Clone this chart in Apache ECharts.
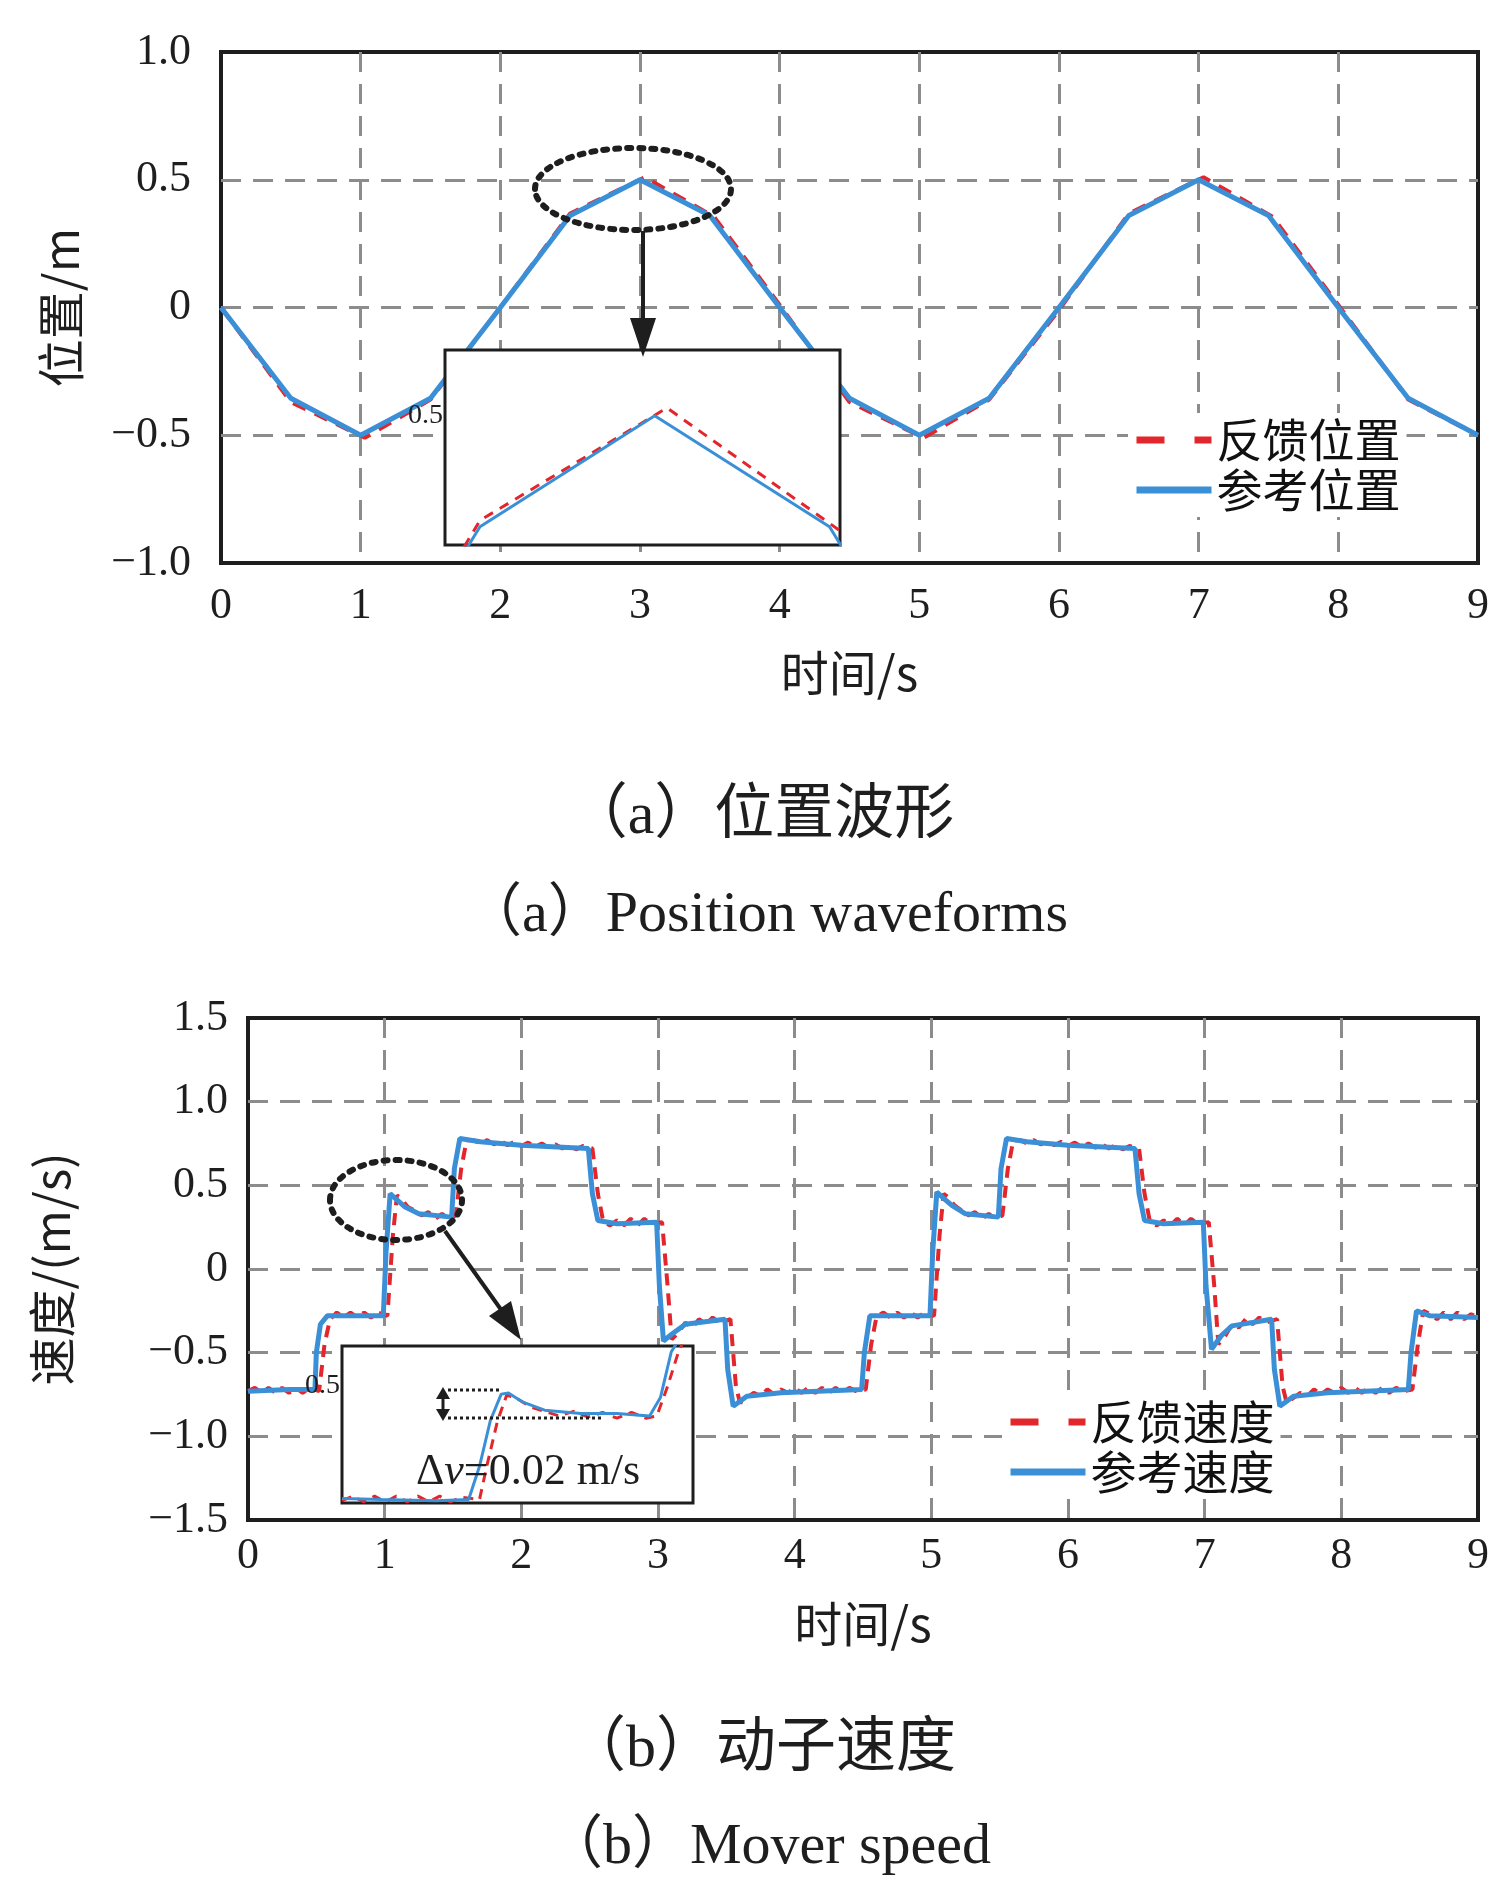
<!DOCTYPE html>
<html><head><meta charset="utf-8">
<script src="https://cdn.jsdelivr.net/npm/echarts@6/dist/echarts.min.js"></script>
<style>html,body{margin:0;padding:0;background:#fff}#c{width:1509px;height:1904px}</style>
</head><body><div id="c"></div>
<script>
// ---------- data ----------
const timeTicks = ['0','1','2','3','4','5','6','7','8','9'];
const posTickValues = [-1, -0.5, 0, 0.5, 1];
const posTickLabels = ['−1.0','−0.5','0','0.5','1.0'];
const spdTickValues = [-1.5, -1, -0.5, 0, 0.5, 1, 1.5];
const spdTickLabels = ['−1.5','−1.0','−0.5','0','0.5','1.0','1.5'];

// position (reference)
const posRefT = [0, 0.5, 1, 1.5, 2, 2.5, 3, 3.5, 4, 4.5, 5, 5.5, 6, 6.5, 7, 7.5, 8, 8.5, 9];
const posRef  = [0, -0.355, -0.5, -0.355, 0, 0.36, 0.5, 0.36, 0, -0.355, -0.5, -0.355, 0, 0.36, 0.5, 0.36, 0, -0.355, -0.5];
// position (feedback)
const posFbT = [0, 0.5, 1.03, 1.5, 2.0, 2.5, 3.035, 3.53, 4.0, 4.5, 5.03, 5.5, 6.0, 6.5, 7.035, 7.53, 8.0, 8.5, 9];
const posFb  = [0, -0.37, -0.51, -0.36, 0.0, 0.368, 0.51, 0.355, 0.01, -0.37, -0.51, -0.36, -0.01, 0.368, 0.51, 0.355, 0.01, -0.36, -0.5];

// speed (reference)
const spdRefT = [0,0.3,0.49,0.5,0.53,0.58,0.8,0.99,1.01,1.04,1.08,1.15,1.25,1.49,1.51,1.55,1.7,2.0,2.49,2.52,2.56,2.7,2.99,3.01,3.04,3.1,3.2,3.49,3.51,3.55,3.65,3.9,4.49,4.51,4.55,4.99,5.01,5.04,5.08,5.15,5.25,5.49,5.51,5.55,5.7,6.0,6.49,6.52,6.56,6.7,6.99,7.01,7.05,7.12,7.2,7.49,7.51,7.55,7.65,7.9,8.49,8.51,8.55,8.65,9];
const spdRef  = [-0.73,-0.72,-0.72,-0.5,-0.33,-0.28,-0.28,-0.28,0.1,0.45,0.42,0.37,0.33,0.31,0.6,0.78,0.76,0.74,0.72,0.45,0.29,0.27,0.28,-0.1,-0.43,-0.39,-0.33,-0.3,-0.6,-0.82,-0.76,-0.74,-0.72,-0.5,-0.28,-0.28,0.1,0.46,0.43,0.38,0.33,0.31,0.6,0.78,0.76,0.74,0.72,0.45,0.29,0.27,0.28,-0.1,-0.48,-0.4,-0.34,-0.3,-0.6,-0.82,-0.76,-0.74,-0.72,-0.5,-0.25,-0.28,-0.29];
// speed (feedback)
const spdFbT = [0,0.05,0.1,0.15,0.2,0.25,0.3,0.35,0.4,0.45,0.52,0.56,0.6,0.65,0.7,0.75,0.8,0.85,0.9,0.95,1.02,1.06,1.09,1.12,1.17,1.22,1.27,1.32,1.37,1.42,1.47,1.52,1.56,1.6,1.65,1.7,1.75,1.8,1.85,1.9,1.95,2.0,2.05,2.1,2.15,2.2,2.25,2.3,2.35,2.4,2.45,2.52,2.56,2.6,2.65,2.7,2.75,2.8,2.85,2.9,2.95,3.03,3.07,3.1,3.15,3.2,3.25,3.3,3.35,3.4,3.45,3.53,3.57,3.6,3.65,3.7,3.75,3.8,3.85,3.9,3.95,4.0,4.05,4.1,4.15,4.2,4.25,4.3,4.35,4.4,4.45,4.52,4.56,4.6,4.65,4.7,4.75,4.8,4.85,4.9,4.95,5.02,5.06,5.09,5.12,5.17,5.22,5.27,5.32,5.37,5.42,5.47,5.52,5.56,5.6,5.65,5.7,5.75,5.8,5.85,5.9,5.95,6.0,6.05,6.1,6.15,6.2,6.25,6.3,6.35,6.4,6.45,6.52,6.56,6.6,6.65,6.7,6.75,6.8,6.85,6.9,6.95,7.03,7.07,7.1,7.15,7.2,7.25,7.3,7.35,7.4,7.45,7.53,7.57,7.6,7.65,7.7,7.75,7.8,7.85,7.9,7.95,8.0,8.05,8.1,8.15,8.2,8.25,8.3,8.35,8.4,8.45,8.52,8.56,8.6,8.65,8.7,8.75,8.8,8.85,8.9,8.95,9.0];
const spdFb  = [-0.73,-0.71,-0.74,-0.71,-0.74,-0.71,-0.74,-0.71,-0.74,-0.71,-0.73,-0.45,-0.30,-0.26,-0.29,-0.26,-0.29,-0.26,-0.29,-0.26,-0.28,0.2,0.44,0.42,0.37,0.35,0.32,0.34,0.30,0.33,0.30,0.32,0.6,0.77,0.77,0.75,0.77,0.745,0.765,0.74,0.76,0.735,0.755,0.73,0.75,0.725,0.745,0.72,0.74,0.715,0.735,0.72,0.45,0.28,0.26,0.29,0.26,0.30,0.26,0.30,0.27,0.28,-0.1,-0.42,-0.38,-0.32,-0.35,-0.30,-0.33,-0.29,-0.32,-0.30,-0.7,-0.80,-0.77,-0.74,-0.76,-0.72,-0.75,-0.72,-0.74,-0.71,-0.74,-0.71,-0.74,-0.71,-0.74,-0.71,-0.74,-0.71,-0.73,-0.72,-0.45,-0.28,-0.26,-0.29,-0.26,-0.29,-0.26,-0.29,-0.26,-0.28,0.2,0.45,0.43,0.38,0.35,0.32,0.34,0.30,0.33,0.30,0.32,0.6,0.77,0.77,0.75,0.77,0.745,0.765,0.74,0.76,0.735,0.755,0.73,0.75,0.725,0.745,0.72,0.74,0.715,0.735,0.72,0.45,0.28,0.26,0.29,0.26,0.30,0.26,0.30,0.27,0.28,-0.1,-0.45,-0.40,-0.33,-0.35,-0.30,-0.33,-0.29,-0.32,-0.30,-0.7,-0.80,-0.77,-0.74,-0.76,-0.72,-0.75,-0.72,-0.74,-0.71,-0.74,-0.71,-0.74,-0.71,-0.74,-0.71,-0.74,-0.71,-0.73,-0.72,-0.45,-0.25,-0.27,-0.30,-0.26,-0.30,-0.26,-0.30,-0.27,-0.29];

// zoomed detail of speed (inset b)
const zoomRefT = [0.64,0.75,0.9,0.99,1.02,1.05,1.08,1.10,1.14,1.2,1.3,1.4,1.49,1.52,1.55,1.58,1.61];
const zoomRef  = [0.402,0.401,0.400,0.401,0.43,0.47,0.493,0.494,0.486,0.479,0.476,0.476,0.474,0.49,0.53,0.545,0.55];
const zoomFbT = [0.64,0.67,0.70,0.73,0.76,0.79,0.82,0.85,0.88,0.91,0.94,0.97,1.02,1.04,1.07,1.095,1.12,1.16,1.2,1.24,1.28,1.32,1.36,1.40,1.44,1.48,1.51,1.54,1.57,1.6];
const zoomFb  = [0.400,0.404,0.399,0.404,0.399,0.404,0.399,0.404,0.399,0.404,0.399,0.403,0.401,0.43,0.47,0.492,0.49,0.482,0.478,0.474,0.478,0.473,0.477,0.472,0.477,0.472,0.474,0.50,0.53,0.55];

const insetRefLevel = 0.5;

// ---------- helpers ----------
const pairs = (t, v) => t.map((x, i) => [x, v[i]]);
const SERIF = "'Liberation Serif','Noto Sans CJK SC',serif";
const CJK = "'Noto Sans CJK SC','Liberation Serif',sans-serif";
const BLUE = '#3b8fd6', RED = '#e3262b', INK = '#1e1e1e';
const lab = (vals, labs) => v => { const i = vals.findIndex(x => Math.abs(x - v) < 1e-9); return i < 0 ? '' : labs[i]; };
const gridSplit = { show: true, showMinLine: false, showMaxLine: false, lineStyle: { color: '#8c8c8c', width: 3, type: [20, 12] } };

function mainX(gi, margin, gap) {
  return { type: 'value', gridIndex: gi, min: 0, max: 9, interval: 1,
    axisLine: { show: false }, axisTick: { show: false },
    axisLabel: { fontSize: 44, fontFamily: SERIF, color: INK, margin: margin, formatter: v => timeTicks[Math.round(v)] },
    splitLine: gridSplit,
    name: '时间/s', nameLocation: 'middle', nameGap: gap,
    nameTextStyle: { fontSize: 48, fontFamily: CJK, color: INK } };
}
function mainY(gi, min, max, vals, labs, margin, name, gap) {
  return { type: 'value', gridIndex: gi, min: min, max: max, interval: 0.5,
    axisLine: { show: false }, axisTick: { show: false },
    axisLabel: { fontSize: 44, fontFamily: SERIF, color: INK, margin: margin, formatter: lab(vals, labs) },
    splitLine: gridSplit,
    name: name, nameLocation: 'middle', nameGap: gap, nameRotate: 90,
    nameTextStyle: { fontSize: 48, fontFamily: CJK, color: INK } };
}
function line(name, data, xi, yi, color, width, dash, z, extra) {
  return Object.assign({ type: 'line', name: name, data: data, xAxisIndex: xi, yAxisIndex: yi,
    showSymbol: false, symbol: 'none', clip: true, z: z, animation: false,
    lineStyle: { color: color, width: width, type: dash || 'solid' }, itemStyle: { color: color } }, extra || {});
}
const mark05 = { silent: true, symbol: ['none', 'none'], animation: false,
  lineStyle: { color: '#999', width: 2, type: [9, 7] },
  label: { show: true, position: 'start', formatter: '0.5', fontSize: 28, fontFamily: SERIF, color: INK, distance: 2 },
  data: [{ yAxis: insetRefLevel }] };

const legendItem = (name, color, dashed) => ({ name: name,
  itemStyle: { color: color, opacity: 0 },
  lineStyle: { color: color, width: 7, type: dashed ? [28, 30] : 'solid' } });

const chart = echarts.init(document.getElementById('c'), null, { renderer: 'canvas' });
chart.setOption({
  animation: false,
  backgroundColor: '#fff',
  grid: [
    { left: 221, top: 52, width: 1257, height: 511, show: true, borderColor: INK, borderWidth: 4, backgroundColor: 'transparent' },
    { left: 445, top: 350, width: 395, height: 195, show: true, borderColor: INK, borderWidth: 3, backgroundColor: '#fff', z: 10 },
    { left: 248, top: 1018, width: 1230, height: 502, show: true, borderColor: INK, borderWidth: 4, backgroundColor: 'transparent' },
    { left: 342, top: 1346, width: 351, height: 157, show: true, borderColor: INK, borderWidth: 3, backgroundColor: '#fff', z: 10 }
  ],
  xAxis: [
    mainX(0, 21, 86),
    { type: 'value', gridIndex: 1, min: 2.4, max: 3.53, show: false },
    mainX(2, 14, 80),
    { type: 'value', gridIndex: 3, min: 0.64, max: 1.61, show: false }
  ],
  yAxis: [
    mainY(0, -1, 1, posTickValues, posTickLabels, 30, '位置/m', 136),
    { type: 'value', gridIndex: 1, min: 0.337, max: 0.583, show: false },
    mainY(2, -1.5, 1.5, spdTickValues, spdTickLabels, 20, '速度/(m/s)', 172),
    { type: 'value', gridIndex: 3, min: 0.398, max: 0.535, show: false }
  ],
  legend: [
    { orient: 'vertical', left: 1128, top: 413, padding: [4, 6, 4, 5], itemGap: 4, itemWidth: 75, itemHeight: 8,
      backgroundColor: '#fff', z: 1, selectedMode: false,
      textStyle: { fontSize: 46, fontFamily: CJK, color: '#111' },
      data: [legendItem('反馈位置', RED, true), legendItem('参考位置', BLUE, false)] },
    { orient: 'vertical', left: 1002, top: 1395, padding: [4, 6, 4, 5], itemGap: 4, itemWidth: 75, itemHeight: 8,
      backgroundColor: '#fff', z: 1, selectedMode: false,
      textStyle: { fontSize: 46, fontFamily: CJK, color: '#111' },
      data: [legendItem('反馈速度', RED, true), legendItem('参考速度', BLUE, false)] }
  ],
  series: [
    line('反馈位置', pairs(posFbT, posFb), 0, 0, RED, 4, [14, 10], 2),
    line('参考位置', pairs(posRefT, posRef), 0, 0, BLUE, 5, 'solid', 2),
    line('反馈位置局部', pairs(posFbT, posFb), 1, 1, RED, 3, [10, 8], 11),
    line('参考位置局部', pairs(posRefT, posRef), 1, 1, BLUE, 3, 'solid', 11, { markLine: mark05 }),
    line('反馈速度', pairs(spdFbT, spdFb), 2, 2, RED, 4, [12, 8], 2),
    line('参考速度', pairs(spdRefT, spdRef), 2, 2, BLUE, 5, 'solid', 2),
    line('反馈速度局部', pairs(zoomFbT, zoomFb), 3, 3, RED, 3, [10, 7], 11),
    line('参考速度局部', pairs(zoomRefT, zoomRef), 3, 3, BLUE, 3, 'solid', 11, { markLine: mark05 })
  ],
  graphic: [
    // annotation (a)
    { type: 'ellipse', z: 20, shape: { cx: 633, cy: 189, rx: 98, ry: 41 },
      style: { fill: 'none', stroke: INK, lineWidth: 6, lineDash: [4, 8], lineCap: 'round' } },
    { type: 'line', z: 20, shape: { x1: 643, y1: 231, x2: 643, y2: 322 }, style: { stroke: INK, lineWidth: 4 } },
    { type: 'polygon', z: 20, shape: { points: [[630, 318], [656, 318], [643, 357]] }, style: { fill: INK } },
    // annotation (b)
    { type: 'ellipse', z: 20, shape: { cx: 396, cy: 1200, rx: 66, ry: 40 },
      style: { fill: 'none', stroke: INK, lineWidth: 6, lineDash: [4, 8], lineCap: 'round' } },
    { type: 'line', z: 20, shape: { x1: 445, y1: 1231, x2: 502, y2: 1311 }, style: { stroke: INK, lineWidth: 4 } },
    { type: 'polygon', z: 20, shape: { points: [[489, 1316], [511, 1301], [521, 1340]] }, style: { fill: INK } },
    { type: 'line', z: 20, shape: { x1: 448, y1: 1390, x2: 502, y2: 1390 }, style: { stroke: INK, lineWidth: 3, lineDash: [3, 3] } },
    { type: 'line', z: 20, shape: { x1: 448, y1: 1418, x2: 604, y2: 1418 }, style: { stroke: INK, lineWidth: 3, lineDash: [3, 3] } },
    { type: 'line', z: 20, shape: { x1: 443, y1: 1396, x2: 443, y2: 1412 }, style: { stroke: INK, lineWidth: 3 } },
    { type: 'polygon', z: 20, shape: { points: [[436, 1399], [450, 1399], [443, 1387]] }, style: { fill: INK } },
    { type: 'polygon', z: 20, shape: { points: [[436, 1409], [450, 1409], [443, 1421]] }, style: { fill: INK } },
    { type: 'text', z: 20, x: 416, y: 1472,
      style: { text: '{a|Δ}{b|v}{a|=0.02 m/s}', verticalAlign: 'middle', align: 'left',
        rich: { a: { fontSize: 44, fontFamily: SERIF, fill: INK, color: INK },
                b: { fontSize: 44, fontFamily: SERIF, fontStyle: 'italic', fill: INK, color: INK } } } },
    // captions
    { type: 'text', z: 20, x: 761, y: 817, style: { text: '（a）位置波形', align: 'center', verticalAlign: 'middle', fontSize: 60, fontFamily: SERIF, fill: INK } },
    { type: 'text', z: 20, x: 766, y: 916, style: { text: '（a）Position waveforms', align: 'center', verticalAlign: 'middle', fontSize: 58, fontFamily: SERIF, fill: INK } },
    { type: 'text', z: 20, x: 761, y: 1750, style: { text: '（b）动子速度', align: 'center', verticalAlign: 'middle', fontSize: 60, fontFamily: SERIF, fill: INK } },
    { type: 'text', z: 20, x: 768, y: 1848, style: { text: '（b）Mover speed', align: 'center', verticalAlign: 'middle', fontSize: 58, fontFamily: SERIF, fill: INK } }
  ]
});
</script></body></html>
